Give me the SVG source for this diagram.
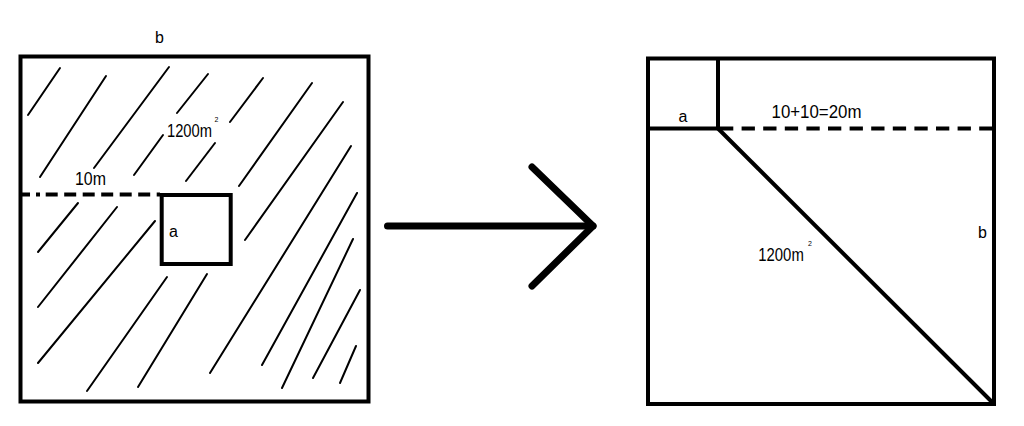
<svg xmlns="http://www.w3.org/2000/svg" width="1024" height="426" viewBox="0 0 1024 426">
<style>
.box{fill:none;stroke:#000;stroke-width:4}
.hatch{fill:none;stroke:#000;stroke-width:2;stroke-linecap:round}
.t{font-family:"Liberation Sans",Arial,sans-serif;font-size:16px;fill:#000}
.n{font-family:"Liberation Sans",Arial,sans-serif;font-size:17.5px;fill:#000}
.sup{font-family:"Liberation Sans",Arial,sans-serif;font-size:7px;fill:#000}
.arrow{fill:none;stroke:#000;stroke-width:7;stroke-linecap:round;stroke-linejoin:round}
</style>
<rect width="1024" height="426" fill="#fff"/>
<g id="left-plot">
  <rect class="box" x="20.5" y="56.5" width="348" height="345"/>
  <g id="hatching" class="hatch">
    <line x1="28" y1="115" x2="60" y2="68"/>
    <line x1="40" y1="177" x2="106" y2="76"/>
    <line x1="94" y1="168" x2="169" y2="67"/>
    <line x1="134" y1="175" x2="163" y2="135"/>
    <line x1="177" y1="113" x2="208" y2="74"/>
    <line x1="186" y1="181" x2="215" y2="143"/>
    <line x1="230" y1="122" x2="263" y2="78"/>
    <line x1="239" y1="186" x2="312" y2="83"/>
    <line x1="245" y1="240" x2="343" y2="102"/>
    <line x1="210" y1="373" x2="351" y2="146"/>
    <line x1="262" y1="365" x2="357" y2="193"/>
    <line x1="282" y1="388" x2="353" y2="239"/>
    <line x1="313" y1="378" x2="360" y2="290"/>
    <line x1="340" y1="383" x2="356" y2="346"/>
    <line x1="38" y1="252" x2="78" y2="203"/>
    <line x1="38" y1="307" x2="117" y2="207"/>
    <line x1="38" y1="363" x2="155" y2="221"/>
    <line x1="87" y1="391" x2="167" y2="277"/>
    <line x1="138" y1="387" x2="207" y2="274"/>
  </g>
  <path d="M20 194.5 H160" fill="none" stroke="#000" stroke-width="4" stroke-dasharray="10 6 4 5.7 12 6.5 12 6.5 12 6.5 12 6.5 12 6.5 12 6.5 12 6.5"/>
  <g id="small-square-left">
    <rect class="box" x="161.7" y="195" width="69" height="69"/>
    <text class="t" x="169" y="236.7">a</text>
  </g>
  <text class="t" x="155" y="43.3">b</text>
  <text class="n" x="167" y="136.5" textLength="45" lengthAdjust="spacingAndGlyphs">1200m</text>
  <text class="sup" x="214.5" y="121.5">2</text>
  <text class="n" x="75" y="185" textLength="31" lengthAdjust="spacingAndGlyphs">10m</text>
</g>
<g id="connectors">
  <line class="arrow" x1="387.5" y1="226" x2="593" y2="226"/>
  <polyline class="arrow" points="532,167 593,226 532,286"/>
</g>
<g id="right-plot">
  <rect class="box" x="648" y="58.5" width="346" height="345.5"/>
  <g id="small-square-right">
    <path d="M718 58.5 V128.5 H648" fill="none" stroke="#000" stroke-width="4"/>
    <text class="t" x="678.5" y="121.7">a</text>
  </g>
  <path d="M720 128.5 H992" fill="none" stroke="#000" stroke-width="4" stroke-dasharray="13.3 8.3"/>
  <line x1="718" y1="128.5" x2="994" y2="404" stroke="#000" stroke-width="4"/>
  <text class="n" x="771.5" y="118" textLength="90" lengthAdjust="spacingAndGlyphs">10+10=20m</text>
  <text class="t" x="978" y="238.3">b</text>
  <text class="n" x="758.3" y="260.7" textLength="45.5" lengthAdjust="spacingAndGlyphs">1200m</text>
  <text class="sup" x="808" y="245.5">2</text>
</g>
</svg>
